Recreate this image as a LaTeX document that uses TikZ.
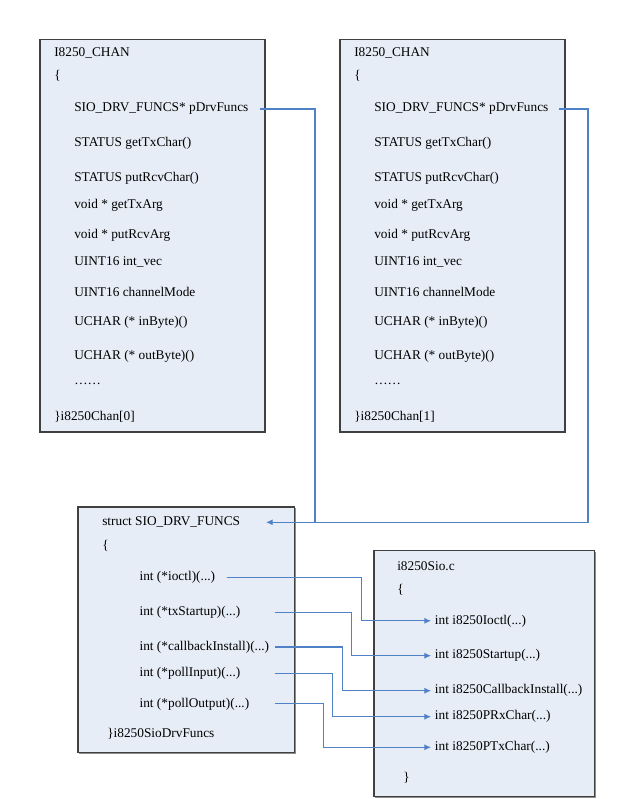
\documentclass[tikz,border=0pt]{standalone}
\usepackage{fontspec}
\setmainfont{Liberation Serif}
\usetikzlibrary{calc,positioning,arrows.meta}
\definecolor{boxfill}{RGB}{231,237,247}
\definecolor{linkblue}{RGB}{79,129,199}

\begin{document}
\begin{tikzpicture}[x=0.75pt,y=-0.75pt,>={Latex[length=5pt,width=4.5pt]}]
  \tikzset{
    codebox/.style={draw=black!75, line width=0.8pt, fill=boxfill},
    boxshadow/.style={fill=black!45},
    code/.style={anchor=west, inner sep=0pt, font=\fontsize{10pt}{12pt}\selectfont},
    link/.style={draw=linkblue, line width=0.8pt},
  }
  \useasboundingbox (0,0) rectangle (623,799);

  % boxes
  \foreach \x/\y/\X/\Y in {40/39.5/265/432, 340/39.5/565/432,
                           78/507/294.5/752.5, 374/550.5/594.5/796.5}{
    \fill[boxshadow] (\x+1,\y+1) rectangle (\X+1,\Y+1);
    \draw[codebox] (\x,\y) rectangle (\X,\Y);
  }

  % the two channel structs
  \foreach \dx/\idx in {0/0, 300/1}{
    \node[code] (head\idx) at (54+\dx,53) {I8250\_CHAN};
    \node[code] (open\idx) at (54+\dx,76) {\{};
    \node[code] (pdf\idx) at (74+\dx,109) {SIO\_DRV\_FUNCS* pDrvFuncs};
    \node[code] (gettx\idx) at (74+\dx,143) {STATUS getTxChar()};
    \node[code] (putrcv\idx) at (74+\dx,178) {STATUS putRcvChar()};
    \node[code] (txarg\idx) at (74+\dx,205) {void * getTxArg};
    \node[code] (rcvarg\idx) at (74+\dx,235) {void * putRcvArg};
    \node[code] (vec\idx) at (74+\dx,262) {UINT16 int\_vec};
    \node[code] (mode\idx) at (74+\dx,292) {UINT16 channelMode};
    \node[code] (inb\idx) at (74+\dx,322) {UCHAR (* inByte)()};
    \node[code] (outb\idx) at (74+\dx,356) {UCHAR (* outByte)()};
    \node[code] (more\idx) at (74+\dx,384) {……};
    \node[code] (close\idx) at (54+\dx,416.5) {\}i8250Chan[\idx]};
  }

  % driver function table
  \node[code] (structC) at (102,522.3) {struct SIO\_DRV\_FUNCS};
  \node[code] (openC) at (102,546) {\{};
  \node[code] (ioctlF) at (139.3,577.3) {int (*ioctl)(...)};
  \node[code] (txF) at (139.3,612.3) {int (*txStartup)(...)};
  \node[code] (cbF) at (139.3,647) {int (*callbackInstall)(...)};
  \node[code] (inF) at (139.3,673.5) {int (*pollInput)(...)};
  \node[code] (outF) at (139.3,703.8) {int (*pollOutput)(...)};
  \node[code] (closeC) at (107,733.5) {\}i8250SioDrvFuncs};

  % i8250Sio.c
  \node[code] (fileD) at (397,565.7) {i8250Sio.c};
  \node[code] (openD) at (397,590) {\{};
  \node[code] (ioctlD) at (434.7,620.8) {int i8250Ioctl(...)};
  \node[code] (txD) at (434.7,655.7) {int i8250Startup(...)};
  \node[code] (cbD) at (434.7,690.7) {int i8250CallbackInstall(...)};
  \node[code] (inD) at (434.7,716.7) {int i8250PRxChar(...)};
  \node[code] (outD) at (434.7,747.3) {int i8250PTxChar(...)};
  \node[code] (closeD) at (403,777.5) {\}};

  % pointers to the function table
  \coordinate (startA) at (260,0);
  \coordinate (startB) at (559,0);
  \coordinate (joinA) at (315,522.3);
  \coordinate (joinB) at (588,522.3);
  \coordinate (tipC) at (266,522.3);
  \draw[link,->] (startA |- pdf0.east) -| (joinA) -- (tipC);
  \draw[link] (startB |- pdf1.east) -| (joinB) -- (joinA);

  % table entries to implementations
  \coordinate (startI) at (226.7,0);
  \coordinate (startx) at (275.3,0);
  \foreach \i/\bx in {1/361.3, 2/351.7, 3/342.7, 4/332.7, 5/323.7}
    \coordinate (bend\i) at (\bx,0);
  \draw[link,->,shorten >=2.7pt] (startI |- ioctlF.east) -| (bend1 |- ioctlD.west) -- (ioctlD.west);
  \foreach \src/\dst/\i in {txF/txD/2, cbF/cbD/3, inF/inD/4, outF/outD/5}
    \draw[link,->,shorten >=2.7pt] (startx |- \src.east) -| (bend\i |- \dst.west) -- (\dst.west);

\end{tikzpicture}
\end{document}
